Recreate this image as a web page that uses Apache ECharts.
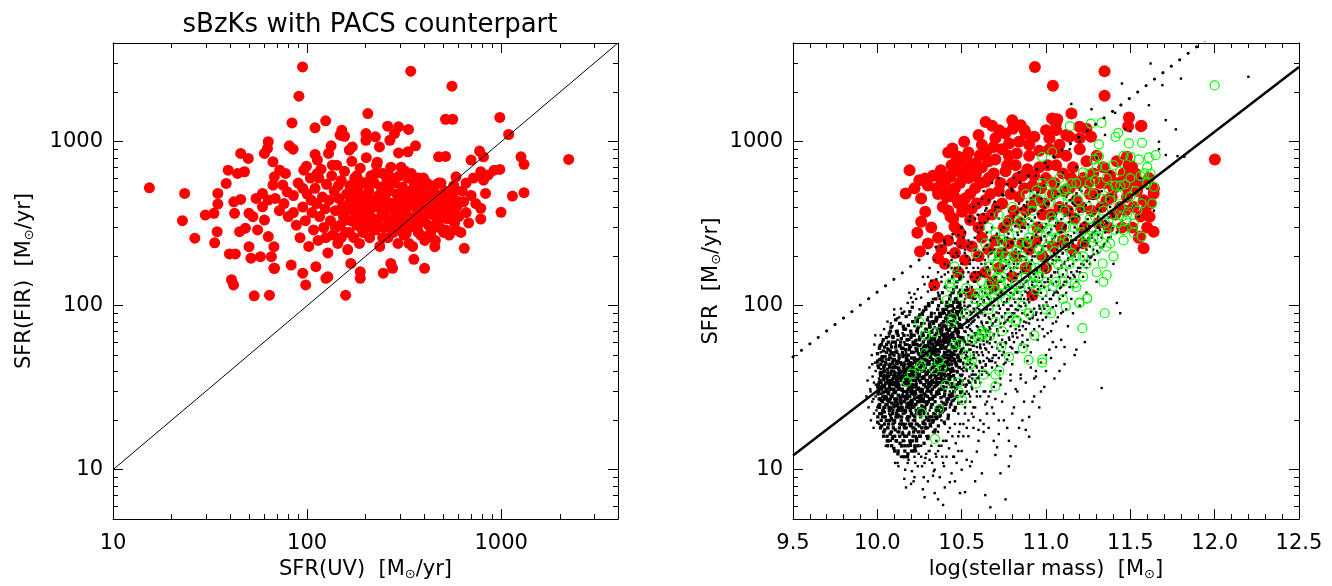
<!DOCTYPE html>
<html>
<head>
<meta charset="utf-8">
<script src="https://cdn.jsdelivr.net/npm/echarts@6/dist/echarts.min.js"></script>
<style>
html,body{margin:0;padding:0;background:#fff;}
#chart{width:1332px;height:586px;}
</style>
</head>
<body>
<div id="chart"></div>
<script>
// ---------------- DATA ----------------
const titleText = 'sBzKs with PACS counterpart';
const leftXName = 'SFR(UV)  [M{sun|⊙}/yr]';
const leftYName = 'SFR(FIR)  [M{sun|⊙}/yr]';
const rightXName = 'log(stellar mass)  [M{sun|⊙}]';
const rightYName = 'SFR  [M{sun|⊙}/yr]';

const logMinorTicks = [2,3,4,5,6,7,8,9,20,30,40,50,60,70,80,90,200,300,400,500,600,700,800,900,2000,3000];

// left panel: SFR(UV), SFR(FIR) of PACS-detected sBzKs
const pacsUvFir = [
[15.4,524],[23.4,484],[22.8,330],[26.4,258],[33.4,242],[29.9,357],[33.1,366],[34.7,484],[34.7,417],[38.3,557],[39.2,671],[34.4,283],[39.8,207],[42.7,207],[40.8,144],[41.8,134],[53.4,115],[64,116],[158,116],[98.4,134],[125,147],[188,147],
[45.5,849],[49.8,791],[63.1,1000],[62.5,910],[60.3,849],[81,945],[84.7,901],[66.7,755],[43.8,641],[47.6,656],[41.9,430],[45.5,445],[42.3,366],[50.2,366],[52.6,349],[54.6,451],[58.9,484],[63.1,441],[68.5,451],[58.9,401],[60.3,333],[55.6,290],[50.2,229],[51.4,195],[57.5,199],[63.1,264],[67.5,229],[65.5,199],[67.5,169],[48.1,297],[44.9,283],[67.8,611],[72.3,671],[77.4,641],[66.7,544],[75,544],[79,495],[99.3,710],[96.2,671],[110,837],[113,773],[113,641],[129,849],[133,945],[151,1177],[148,1097],[156,1080],[165,889],[171,930],[201,1122],[201,1021],[225,1071],[260,1245],[296,1233],[333,1189],[267,1021],[282,1122],[236,930],[362,945],[331,869],[296,855],[476,809],[517,814],[700,773],[774,877],[811,809],[785,656],[811,583],[920,671],[984,678],[859,627],[831,484],[785,393],[785,338],[585,290],[646,224],[585,611],[571,495],[598,430],[403,169],[355,192],[270,181],[276,169],[247,158],[188,161],[168,181],[128,150],[111,173],[95,158],[82.8,177],[68,169],[455,229],[406,258],[466,349],[498,366],[362,303],[324,276],[302,290],
[94.8,2858],[342,2692],[558,2183],[90.8,1897],[205.6,1486],[83.6,1303],[124.7,1341],[109.9,1215],[517,1371],[563,1371],[984,1406],[1093,1107],[2229,780],[1265,809],[1312,728],[1312,489],[1143,466],[998,371],
[72,380],[76,420],[80,350],[85,470],[88,310],[90,560],[92,260],[95,400],[98,330],[100,480],[102,230],[104,600],[106,370],[108,290],[110,520],[112,420],[114,250],[116,350],[118,680],[120,460],[122,300],[124,390],[126,550],[128,210],[130,440],[132,330],[134,620],[136,270],[138,500],[140,380],[142,720],[144,240],[146,450],[148,310],[150,580],[152,400],[154,350],[156,660],[158,280],[160,480],[162,220],[164,420],[166,540],[168,330],[170,760],[172,380],[174,260],[176,600],[178,450],[180,310],[182,520],[184,400],[186,240],[188,690],[190,350],[192,470],[194,280],[196,560],[198,420],[200,320],[202,800],[205,380],[208,500],[210,260],[213,620],[216,440],[219,340],[222,560],[225,290],[228,720],[231,400],[234,470],[237,230],[240,530],[243,360],[246,640],[249,300],[252,450],[255,380],[258,580],[261,260],[264,500],[267,330],[270,700],[274,420],[278,280],[282,560],[286,360],[290,480],[294,240],[298,620],[302,400],[306,320],[310,530],[315,270],[320,450],[325,360],[330,600],[335,300],[340,500],[345,410],[350,230],[356,560],[362,350],[368,440],[374,280],[380,520],[386,380],[392,330],[398,600],[404,250],[410,470],[416,400],[422,310],[428,540],[434,280],[440,430],[446,360],[452,490],[458,250],[464,400],[470,330],[476,560],[482,300],[490,440],[498,370],[506,280],[514,500],[522,340],[530,420],[540,270],[550,380],[560,460],[575,320],[590,400],[605,350],[620,280],[640,430],[660,370],[680,320],
[85,370],[95,520],[105,440],[115,600],[125,260],[135,720],[145,540],[155,330],[165,280],[175,500],[185,580],[195,340],[205,440],[215,300],[225,640],[235,420],[245,260],[255,520],[265,400],[275,600],[285,310],[295,440],[305,700],[315,380],[325,480],[335,240],[345,640],[355,430],[365,350],[375,600],[385,270],[395,480],[405,360],[415,560],[425,400],[435,460],[445,300],[455,540],[465,440],[475,380],[490,560],[505,420],[520,290],[535,480],[550,340],[570,540],[600,430],[630,500],[660,560],[700,470],[740,420],[720,600],
[140,300],[150,260],[160,380],[170,420],[180,360],[190,300],[200,450],[210,380],[220,420],[230,330],[240,400],[250,350],[260,430],[270,300],[280,400],[290,350],[300,450],[310,300],[320,380],[330,420],[340,340],[350,480],[360,400],[370,300],[380,440],[390,400],[400,330],[420,440],[440,360],[460,480],[200,560],[260,640],[320,660],[180,620],[230,750]
];

// right panel: log stellar mass, SFR(FIR) of PACS-detected sBzKs
const pacsMassSfr = [
[10.934,2858],[11.347,2692],[11.041,2193],[11.347,1906],[11.151,1486],[11.492,1406],[11.566,1250],[12.001,780],[11.047,1371],[11.067,1371],
[10.168,484],[10.191,671],[10.249,583],[10.284,597],[10.237,279],[10.253,214],[10.26,325],[10.284,374],[10.36,195],[10.337,134],[10.376,671],[10.434,611],[10.353,520],[10.445,910],[10.515,1000],[10.48,809],[10.527,791],
[10.411,484],[10.457,461],[10.48,421],[10.388,401],[10.434,349],[10.503,374],[10.55,333],[10.492,276],[10.457,303],
[10.585,641],[10.642,570],[10.608,828],[10.689,930],[10.723,1177],[10.758,1122],[10.642,1321],[10.804,1200],[10.85,1262],[10.873,1177],[10.931,1071],[10.781,977],[10.827,849],
[11.0,1177],[11.036,1386],[11.059,1291],[11.139,1071],[11.198,1233],[11.267,1071],[11.487,1245],[11.563,1245],[11.48,809],[11.51,703],
[11.475,531],[11.545,570],[11.638,484],[11.614,349],[11.638,283],[11.579,224],[11.557,264],
[10.55,119],[10.69,131],[10.92,116],
[10.40,560],[10.42,380],[10.44,720],[10.46,520],[10.48,290],[10.50,640],[10.52,450],[10.54,860],[10.56,390],[10.58,520],[10.60,300],[10.62,700],[10.64,440],[10.66,600],[10.68,360],[10.70,780],[10.72,500],[10.74,420],[10.76,660],[10.78,330],[10.80,560],[10.82,720],[10.84,460],[10.86,620],[10.88,380],[10.90,820],[10.92,540],[10.94,440],[10.96,700],[10.98,360],[11.00,600],[11.02,900],[11.04,480],[11.06,720],[11.08,400],[11.10,640],[11.12,820],[11.14,520],[11.16,700],[11.18,440],[11.20,900],[11.22,600],[11.24,760],[11.26,480],[11.28,640],[11.30,820],[11.32,560],[11.34,700],[11.36,440],[11.38,620],[11.40,520],[11.42,760],[11.44,400],[11.46,640],[11.48,460],[11.50,580],[11.52,400],[11.54,500],[11.56,350],[11.58,440],[11.60,300],[11.62,420],[11.64,520],
[10.41,460],[10.43,620],[10.45,340],[10.47,800],[10.49,560],[10.51,400],[10.53,700],[10.55,480],[10.57,620],[10.59,420],[10.61,560],[10.63,340],[10.65,880],[10.67,480],[10.69,640],[10.71,400],[10.73,560],[10.75,300],[10.77,720],[10.79,480],[10.81,380],[10.83,600],[10.85,320],[10.87,520],[10.89,680],[10.91,400],[10.93,620],[10.95,300],[10.97,520],[10.99,420],[11.01,720],[11.03,360],[11.05,560],[11.07,860],[11.09,300],[11.11,500],[11.13,380],[11.15,600],[11.17,340],[11.19,560],[11.21,400],[11.23,300],[11.25,560],[11.27,380],[11.29,480],[11.31,320],[11.33,400],[11.35,560],[11.37,300],[11.39,460],[11.41,360],[11.43,560],[11.45,300],[11.47,380],[11.49,720],[11.51,300],[11.53,640],[11.55,260],[11.57,560],[11.59,380],[11.61,600],
[10.30,240],[10.32,300],[10.36,260],[10.38,220],[10.40,180],[10.42,250],[10.46,210],[10.50,240],[10.52,190],[10.56,230],[10.60,200],[10.62,260],[10.66,220],[10.70,250],[10.74,210],[10.78,240],[10.82,200],[10.86,240],[10.90,220],[10.94,250],[10.98,200],[11.04,230],[11.10,250],[11.16,220],[11.22,240],[10.64,160],[10.72,170],[10.80,150],[10.58,150],[10.48,160],[10.88,170],[11.00,170],[10.68,140],
[10.22,520],[10.26,450],[10.30,540],[10.33,620],[10.36,480],[10.38,580],[10.42,860],[10.46,680],[10.50,760],[10.54,600],[10.58,740],[10.62,960],[10.66,760],[10.60,1100],[10.70,1050],[10.74,900],[10.78,820],[10.84,1000],[10.90,960],[10.96,880],[11.02,1050],[11.08,960],[11.12,1100],[11.20,1050],[11.24,1200],[10.80,1350],[10.68,1250],[10.88,1120],[11.06,1180]
];

// right panel: all sBzKs (log stellar mass, SFR) - outskirts and scatter
const sbzkMassSfr = [
[9.96,30],[9.97,26],[9.98,34],[9.98,22],[9.99,40],[9.99,28],[10.00,45],[10.00,32],[10.00,24],[10.01,36],[10.01,19],[10.02,52],[10.02,29],[10.02,41],[10.03,23],[10.03,33],[10.03,60],[10.04,27],[10.04,38],[10.04,17],[10.05,47],[10.05,31],[10.05,21],[10.05,14],[9.97,44],
[10.06,35],[10.06,25],[10.06,55],[10.06,18],[10.07,42],[10.07,30],[10.07,22],[10.07,65],[10.08,38],[10.08,27],[10.08,15],[10.08,48],[10.08,33],[10.09,20],[10.09,44],[10.09,29],[10.09,75],[10.09,36],[10.10,24],[10.10,52],[10.10,31],[10.10,13],[10.10,40],[10.10,27],[10.11,58],[10.11,35],[10.11,21],[10.11,46],[10.11,30],[10.12,17],[10.12,39],[10.12,26],[10.12,62],[10.12,33],[10.12,23],[10.13,48],[10.13,37],[10.13,28],[10.13,19],[10.13,85],[10.13,42],[10.14,31],[10.14,55],[10.14,25],[10.14,36],[10.14,12],[10.14,45],[10.15,29],[10.15,68],[10.15,38],[10.15,22],[10.15,50],[10.15,33],[10.07,48],[10.09,16],[10.11,70],[10.13,24],[10.08,58],[10.10,36],[10.12,44],[10.14,20],[10.06,30],[10.09,52],[10.11,26],[10.13,33],[10.15,17],[10.10,95],[10.12,11],[10.14,78],[10.08,42],
[10.16,30],[10.16,45],[10.16,22],[10.16,60],[10.16,36],[10.16,15],[10.16,26],[10.17,40],[10.17,52],[10.17,28],[10.17,19],[10.17,34],[10.17,72],[10.17,24],[10.18,47],[10.18,31],[10.18,11],[10.18,38],[10.18,58],[10.18,21],[10.18,27],[10.19,43],[10.19,33],[10.19,88],[10.19,25],[10.19,17],[10.19,55],[10.19,37],[10.20,29],[10.20,48],[10.20,23],[10.20,64],[10.20,35],[10.20,14],[10.20,41],[10.21,30],[10.21,52],[10.21,26],[10.21,20],[10.21,44],[10.21,105],[10.21,33],[10.22,38],[10.22,60],[10.22,28],[10.22,18],[10.22,46],[10.22,24],[10.22,9],[10.23,34],[10.23,70],[10.23,41],[10.23,22],[10.23,29],[10.23,53],[10.23,13],[10.24,37],[10.24,47],[10.24,26],[10.24,82],[10.24,31],[10.24,19],[10.24,58],[10.25,42],[10.25,27],[10.25,35],[10.25,65],[10.25,22],[10.25,16],[10.25,50],[10.16,50],[10.17,12],[10.18,66],[10.19,28],[10.20,56],[10.21,38],[10.22,75],[10.23,16],[10.24,40],[10.25,30],[10.16,19],[10.17,46],[10.18,35],[10.19,62],[10.20,32],[10.21,24],[10.22,52],[10.23,44],[10.24,23],[10.25,95],[10.18,25],[10.20,40],[10.22,33],[10.24,68],[10.17,58],[10.19,21],[10.21,16],[10.23,62],[10.25,37],[10.16,8.8],[10.20,8.2],[10.24,10.5],[10.19,120],[10.23,110],[10.17,7.8],[10.22,12],[10.18,44],[10.24,52],[10.20,26],[10.21,66],
[10.26,40],[10.26,30],[10.26,58],[10.26,22],[10.26,75],[10.26,34],[10.26,14],[10.27,45],[10.27,26],[10.27,52],[10.27,36],[10.27,19],[10.27,88],[10.27,31],[10.28,62],[10.28,42],[10.28,24],[10.28,33],[10.28,11],[10.28,48],[10.28,28],[10.29,38],[10.29,70],[10.29,21],[10.29,55],[10.29,30],[10.29,16],[10.29,44],[10.30,35],[10.30,100],[10.30,26],[10.30,50],[10.30,40],[10.30,18],[10.30,65],[10.31,32],[10.31,46],[10.31,23],[10.31,80],[10.31,37],[10.31,13],[10.31,56],[10.32,29],[10.32,42],[10.32,60],[10.32,20],[10.32,34],[10.32,125],[10.32,48],[10.33,39],[10.33,25],[10.33,72],[10.33,31],[10.33,17],[10.33,53],[10.33,44],[10.34,36],[10.34,28],[10.34,90],[10.34,21],[10.34,47],[10.34,60],[10.34,10],[10.35,41],[10.35,30],[10.35,68],[10.35,24],[10.35,52],[10.35,145],[10.35,15],[10.26,48],[10.27,66],[10.28,20],[10.29,95],[10.30,30],[10.31,27],[10.32,38],[10.33,110],[10.34,40],[10.35,35],[10.26,26],[10.28,55],[10.30,22],[10.32,70],[10.34,32],[10.27,40],[10.29,34],[10.31,64],[10.33,27],[10.35,80],[10.27,7.6],[10.30,8.5],[10.33,9.2],[10.28,6.8],[10.34,7.2],[10.31,11.5],[10.26,12],[10.29,12.5],[10.32,14],[10.35,12],[10.27,150],[10.31,170],[10.34,190],[10.30,58],[10.28,36],[10.26,64],[10.33,62],[10.35,46],[10.29,26],[10.31,44],[10.27,56],[10.32,52],[10.34,74],[10.30,85],[10.28,78],
[10.36,45],[10.36,33],[10.36,62],[10.36,24],[10.36,85],[10.36,38],[10.36,17],[10.37,52],[10.37,29],[10.37,70],[10.37,40],[10.37,21],[10.37,110],[10.38,35],[10.38,58],[10.38,46],[10.38,26],[10.38,14],[10.38,78],[10.38,31],[10.39,42],[10.39,95],[10.39,34],[10.39,55],[10.39,23],[10.39,66],[10.39,11],[10.40,48],[10.40,37],[10.40,130],[10.40,28],[10.40,60],[10.40,19],[10.40,44],[10.41,75],[10.41,32],[10.41,52],[10.41,25],[10.41,88],[10.41,40],[10.41,15],[10.42,58],[10.42,36],[10.42,160],[10.42,27],[10.42,47],[10.42,70],[10.42,21],[10.43,41],[10.43,100],[10.43,33],[10.43,62],[10.43,50],[10.43,18],[10.43,30],[10.44,80],[10.44,44],[10.44,55],[10.44,26],[10.44,120],[10.44,37],[10.44,9.5],[10.45,64],[10.45,48],[10.45,32],[10.45,200],[10.45,23],[10.45,90],[10.45,40],[10.36,120],[10.38,150],[10.40,180],[10.42,210],[10.44,170],[10.37,9],[10.40,7.8],[10.43,8.4],[10.45,12],[10.36,13],[10.39,15],[10.41,12],[10.42,17],[10.38,20],[10.43,24],[10.37,36],[10.39,48],[10.41,62],[10.43,72],[10.45,56],[10.36,54],[10.38,66],[10.40,90],[10.42,98],[10.44,66],[10.37,86],[10.39,28],[10.41,44],[10.43,38],[10.45,28],[10.40,240],[10.44,260],[10.38,230],[10.36,6.6],[10.39,6.1],
[10.46,50],[10.46,36],[10.46,75],[10.46,27],[10.46,110],[10.46,44],[10.46,19],[10.47,60],[10.47,40],[10.47,92],[10.47,31],[10.47,140],[10.47,55],[10.48,46],[10.48,70],[10.48,34],[10.48,22],[10.48,100],[10.48,58],[10.48,16],[10.49,42],[10.49,82],[10.49,30],[10.49,125],[10.49,64],[10.49,38],[10.50,52],[10.50,180],[10.50,41],[10.50,76],[10.50,26],[10.50,96],[10.50,13],[10.51,62],[10.51,45],[10.51,150],[10.51,33],[10.51,85],[10.51,55],[10.52,70],[10.52,48],[10.52,220],[10.52,36],[10.52,110],[10.52,24],[10.52,60],[10.53,40],[10.53,90],[10.53,130],[10.53,52],[10.53,30],[10.53,18],[10.54,66],[10.54,44],[10.54,160],[10.54,80],[10.54,35],[10.54,250],[10.55,58],[10.55,100],[10.55,42],[10.55,72],[10.55,28],[10.55,190],[10.46,240],[10.48,270],[10.50,300],[10.52,280],[10.54,330],[10.47,210],[10.49,230],[10.51,260],[10.53,200],[10.55,350],[10.46,8.5],[10.49,7.2],[10.52,7.3],[10.55,10.5],[10.47,11],[10.50,10],[10.53,11.5],[10.48,13],[10.51,16],[10.54,20],[10.46,24],[10.49,19],[10.52,29],[10.55,34],[10.47,68],[10.50,64],[10.53,74],[10.49,52],[10.51,40],
[10.56,60],[10.56,44],[10.56,90],[10.56,32],[10.56,130],[10.56,70],[10.57,52],[10.57,110],[10.57,38],[10.57,170],[10.57,80],[10.57,24],[10.58,66],[10.58,48],[10.58,140],[10.58,95],[10.58,35],[10.58,220],[10.59,56],[10.59,75],[10.59,120],[10.59,42],[10.59,28],[10.59,300],[10.60,62],[10.60,100],[10.60,50],[10.60,160],[10.60,36],[10.60,85],[10.61,70],[10.61,130],[10.61,45],[10.61,200],[10.61,58],[10.61,20],[10.62,78],[10.62,110],[10.62,52],[10.62,250],[10.62,38],[10.62,90],[10.63,64],[10.63,150],[10.63,46],[10.63,105],[10.63,30],[10.63,360],[10.64,72],[10.64,55],[10.64,180],[10.64,120],[10.64,40],[10.64,88],[10.65,60],[10.65,140],[10.65,48],[10.65,280],[10.65,95],[10.65,26],[10.57,400],[10.60,420],[10.62,450],[10.64,380],[10.58,340],[10.61,320],[10.63,500],[10.56,11.2],[10.59,12.9],[10.58,8.5],[10.62,9.5],[10.64,7],[10.60,15],[10.63,17],[10.57,18],[10.65,22],[10.59,30],[10.61,34],[10.64,30],[10.56,22],
[10.66,70],[10.66,52],[10.66,110],[10.66,160],[10.66,38],[10.66,85],[10.67,62],[10.67,130],[10.67,46],[10.67,220],[10.67,95],[10.68,76],[10.68,56],[10.68,180],[10.68,120],[10.68,42],[10.68,300],[10.69,66],[10.69,100],[10.69,150],[10.69,50],[10.69,88],[10.69,32],[10.70,80],[10.70,60],[10.70,200],[10.70,125],[10.70,45],[10.70,400],[10.71,72],[10.71,110],[10.71,160],[10.71,55],[10.71,260],[10.72,90],[10.72,66],[10.72,140],[10.72,48],[10.72,340],[10.72,100],[10.73,78],[10.73,190],[10.73,58],[10.73,120],[10.73,36],[10.74,85],[10.74,62],[10.74,240],[10.74,150],[10.74,480],[10.75,70],[10.75,105],[10.75,170],[10.75,52],[10.75,300],[10.67,5.9],[10.70,12.3],[10.71,13.7],[10.73,9.5],[10.69,15],[10.72,20],[10.74,26],[10.66,28],[10.68,24],[10.70,34],[10.73,40],[10.75,44],[10.68,560],[10.72,600],[10.66,440],
[10.76,80],[10.76,60],[10.76,130],[10.76,190],[10.76,45],[10.77,95],[10.77,70],[10.77,150],[10.77,260],[10.77,110],[10.78,85],[10.78,64],[10.78,210],[10.78,130],[10.78,50],[10.78,380],[10.79,100],[10.79,75],[10.79,170],[10.79,56],[10.79,120],[10.80,90],[10.80,68],[10.80,240],[10.80,140],[10.80,44],[10.80,500],[10.81,110],[10.81,80],[10.81,180],[10.81,60],[10.81,320],[10.82,95],[10.82,72],[10.82,150],[10.82,220],[10.82,52],[10.83,120],[10.83,86],[10.83,280],[10.83,64],[10.83,170],[10.84,100],[10.84,75],[10.84,200],[10.84,130],[10.84,420],[10.85,110],[10.85,82],[10.85,160],[10.85,58],[10.85,250],[10.76,6.6],[10.78,10.5],[10.79,12.1],[10.82,13.9],[10.77,18],[10.80,22],[10.83,30],[10.85,36],[10.79,38],[10.81,600],[10.84,650],[10.77,550],
[10.86,90],[10.86,130],[10.86,200],[10.86,66],[10.86,300],[10.87,110],[10.87,80],[10.87,160],[10.87,240],[10.87,56],[10.88,100],[10.88,140],[10.88,72],[10.88,190],[10.88,400],[10.89,120],[10.89,88],[10.89,260],[10.89,62],[10.89,170],[10.90,105],[10.90,150],[10.90,78],[10.90,220],[10.90,340],[10.91,125],[10.91,92],[10.91,180],[10.91,68],[10.91,500],[10.92,110],[10.92,140],[10.92,84],[10.92,260],[10.92,200],[10.93,130],[10.93,96],[10.93,160],[10.93,72],[10.93,380],[10.94,115],[10.94,150],[10.94,88],[10.94,230],[10.94,620],[10.95,120],[10.95,170],[10.95,82],[10.95,300],[10.88,17.5],[10.90,15.9],[10.86,20],[10.92,26],[10.94,40],[10.89,46],[10.91,52],[10.93,36],
[10.96,100],[10.96,140],[10.96,210],[10.96,75],[10.96,320],[10.97,120],[10.97,170],[10.97,90],[10.97,260],[10.97,450],[10.98,110],[10.98,150],[10.98,82],[10.98,230],[10.98,600],[10.99,130],[10.99,190],[10.99,96],[10.99,300],[11.00,115],[11.00,160],[11.00,85],[11.00,250],[11.00,420],[11.01,140],[11.01,200],[11.01,100],[11.01,700],[11.02,125],[11.02,175],[11.02,90],[11.02,280],[11.03,150],[11.03,110],[11.03,220],[11.03,360],[11.04,135],[11.04,190],[11.04,98],[11.04,500],[11.05,160],[11.05,120],[11.05,260],[11.05,800],[10.97,30],[11.00,40],[11.02,54],[11.04,60],[10.99,65],[11.03,70],
[11.06,140],[11.06,200],[11.06,100],[11.06,320],[11.07,160],[11.07,120],[11.07,240],[11.07,550],[11.08,150],[11.08,110],[11.08,190],[11.08,400],[11.09,170],[11.09,130],[11.09,280],[11.09,90],[11.10,155],[11.10,210],[11.10,115],[11.10,650],[11.11,180],[11.11,140],[11.11,300],[11.12,165],[11.12,230],[11.12,120],[11.12,460],[11.13,190],[11.13,150],[11.13,270],[11.14,175],[11.14,130],[11.14,360],[11.14,900],[11.15,200],[11.15,160],[11.15,250],[11.15,110],[11.08,40],[11.11,56],[11.13,75],[11.09,62],[11.06,80],[11.12,95],[11.15,1700],
[11.16,180],[11.16,250],[11.16,130],[11.16,420],[11.17,200],[11.17,150],[11.17,300],[11.18,190],[11.18,260],[11.18,140],[11.18,700],[11.19,220],[11.19,170],[11.19,350],[11.20,210],[11.20,160],[11.20,280],[11.20,1000],[11.21,230],[11.21,180],[11.21,500],[11.22,200],[11.22,260],[11.22,150],[11.23,240],[11.23,190],[11.23,380],[11.24,220],[11.24,300],[11.24,170],[11.25,250],[11.25,200],[11.25,600],[11.18,54],[11.20,100],[11.22,110],[11.24,120],[11.16,90],
[11.26,230],[11.26,300],[11.26,180],[11.27,260],[11.27,200],[11.27,1580],[11.28,280],[11.28,220],[11.28,450],[11.29,250],[11.29,320],[11.29,190],[11.30,300],[11.30,240],[11.30,800],[11.31,270],[11.31,350],[11.31,210],[11.32,290],[11.32,380],[11.33,260],[11.33,31.5],[11.33,500],[11.34,310],[11.34,230],[11.35,280],[11.35,1100],[11.30,140],
[11.36,320],[11.37,260],[11.38,400],[11.39,300],[11.40,350],[11.41,1500],[11.42,280],[11.43,420],[11.44,90],[11.45,2265],[11.45,330],[11.46,380],[11.47,1200],[11.48,300],[11.42,104],[11.50,1160],[11.38,650],[11.44,520],[11.49,450],[11.40,180],
[11.52,400],[11.55,350],[11.58,450],[11.61,1671],[11.62,3000],[11.64,380],[11.67,1000],[11.67,900],[11.69,2213],[11.71,1355],[11.71,830],[11.77,1189],[11.78,817],[11.80,2427],[11.82,810],[12.20,2490],[11.56,600],[11.60,520]
];

// right panel: all sBzKs - fringe around the dense core
const sbzkEdgeMassSfr = [
[10.502,28],[10.506,35],[10.509,44],[10.513,52],[10.517,61],[10.504,73],[10.511,86],[10.515,105],[10.519,125],
[10.522,26],[10.526,33],[10.529,41],[10.533,49],[10.537,58],[10.524,69],[10.531,82],[10.535,98],[10.539,118],
[10.542,29],[10.546,37],[10.549,45],[10.553,54],[10.557,64],[10.544,76],[10.551,92],[10.555,112],
[10.562,31],[10.566,40],[10.569,48],[10.573,57],[10.577,68],[10.564,80],[10.571,96],[10.575,118],
[10.582,34],[10.586,43],[10.589,52],[10.593,62],[10.597,74],[10.584,88],[10.591,105],
[10.602,37],[10.606,46],[10.609,56],[10.613,67],[10.617,80],[10.604,95],
[10.622,40],[10.626,50],[10.629,61],[10.633,73],[10.637,87],
[10.642,43],[10.646,54],[10.649,66],[10.653,79],
[10.662,47],[10.666,59],[10.669,72],
[10.105,11],[10.125,10.5],[10.145,12],[10.165,10],[10.185,11.5],[10.205,9.8],[10.225,11],[10.245,12.5],[10.265,10.5],[10.285,11.8],[10.305,13],[10.325,11],[10.345,12.5],[10.365,14],[10.385,12],[10.405,15],[10.425,13.5],[10.445,16],[10.465,14.5],[10.485,17],[10.215,8.5],[10.275,9],[10.335,9.8],[10.395,10.5],[10.455,12],
[9.935,28],[9.942,35],[9.948,24],[9.953,42],[9.958,31],[9.962,20],[9.967,50],[9.972,37],[9.977,27],[9.982,58],[9.986,45],[9.991,33],[9.995,23],[9.988,66],[9.978,18],
[10.02,66],[10.04,72],[10.06,80],[10.08,78],[10.10,88],[10.12,84],[10.14,96],[10.16,92],[10.18,104],[10.20,112],[10.22,118],[10.24,126],[10.26,112],[10.28,135],[10.30,122],[10.32,142],[10.34,130],[10.36,160],[10.38,140],[10.40,155],[10.42,175],[10.44,190],[10.46,170],[10.48,200],[10.30,150]
];

// right panel: all sBzKs - dense low-mass core
const sbzkCoreMassSfr = [
[10.003,21],[10.011,27],[10.006,33],[10.017,39],[10.002,46],[10.014,25],[10.009,30],[10.019,18],[10.013,24],[10.004,29],[10.016,35],[10.008,42],[10.012,55],
[10.023,20],[10.031,26],[10.027,31],[10.036,37],[10.021,44],[10.034,23],[10.029,49],[10.038,17],[10.025,22],[10.033,28],[10.022,34],[10.039,40],[10.028,48],[10.035,62],
[10.043,19],[10.051,25],[10.047,30],[10.056,36],[10.041,43],[10.054,52],[10.049,27],[10.058,16],[10.045,21],[10.053,27.5],[10.042,32],[10.059,38],[10.048,45],[10.055,58],[10.044,24],
[10.063,18],[10.071,23],[10.067,29],[10.076,34],[10.061,41],[10.074,50],[10.069,26],[10.078,70],[10.065,15],[10.073,20],[10.062,26.5],[10.079,31],[10.068,37],[10.075,44],[10.064,54],[10.072,33],
[10.083,17],[10.091,22],[10.087,28],[10.096,33],[10.081,39],[10.094,47],[10.089,60],[10.098,25],[10.085,14],[10.093,19],[10.082,24],[10.099,30],[10.088,35],[10.095,42],[10.084,51],[10.092,65],[10.086,28],
[10.103,16],[10.111,21],[10.107,26],[10.116,32],[10.101,38],[10.114,45],[10.109,56],[10.118,23],[10.105,34],[10.113,15],[10.102,20],[10.119,25],[10.108,30],[10.115,36],[10.104,43],[10.112,53],[10.117,68],[10.106,27],
[10.123,13],[10.131,18],[10.127,23],[10.136,28],[10.121,34],[10.134,40],[10.129,48],[10.138,60],[10.125,31],[10.133,16],[10.122,21],[10.139,27],[10.128,32],[10.135,39],[10.124,46],[10.132,57],[10.126,24],[10.137,36],
[10.143,14],[10.151,19],[10.147,24],[10.156,30],[10.141,35],[10.154,42],[10.149,52],[10.158,66],[10.145,28],[10.153,15],[10.142,20],[10.159,26],[10.148,31],[10.155,37],[10.144,44],[10.152,55],[10.157,72],[10.146,23],
[10.163,13],[10.171,18],[10.167,23],[10.176,29],[10.161,34],[10.174,41],[10.169,50],[10.178,62],[10.165,27],[10.173,38],[10.162,16],[10.179,21],[10.168,27],[10.175,33],[10.164,39],[10.172,47],[10.166,58],[10.177,25],[10.17,35],
[10.183,14],[10.191,19],[10.187,25],[10.196,30],[10.181,36],[10.194,43],[10.189,54],[10.198,70],[10.185,28],[10.193,15],[10.182,20],[10.199,26],[10.188,32],[10.195,38],[10.184,46],[10.192,57],[10.186,24],[10.197,33],[10.19,44],
[10.203,13],[10.211,18],[10.207,24],[10.216,29],[10.201,35],[10.214,42],[10.209,52],[10.218,66],[10.205,31],[10.213,16],[10.202,22],[10.219,27],[10.208,33],[10.215,40],[10.204,48],[10.212,60],[10.206,25],[10.217,37],[10.21,80],
[10.223,14],[10.231,19],[10.227,25],[10.236,31],[10.221,37],[10.234,44],[10.229,55],[10.238,72],[10.225,29],[10.233,15],[10.222,21],[10.239,26],[10.228,32],[10.235,39],[10.224,47],[10.232,58],[10.226,35],[10.237,80],[10.23,23],
[10.243,17],[10.251,23],[10.247,28],[10.256,34],[10.241,41],[10.254,50],[10.249,62],[10.258,27],[10.245,45],[10.253,16],[10.242,22],[10.259,28],[10.248,35],[10.255,42],[10.244,51],[10.252,64],[10.246,85],[10.257,31],[10.25,38],
[10.263,18],[10.271,24],[10.267,30],[10.276,37],[10.261,44],[10.274,54],[10.269,68],[10.278,26],[10.265,40],[10.273,17],[10.262,23],[10.279,29],[10.268,36],[10.275,43],[10.264,53],[10.272,66],[10.266,90],[10.277,33],[10.27,48],
[10.283,19],[10.291,25],[10.287,32],[10.296,39],[10.281,47],[10.294,57],[10.289,72],[10.298,28],[10.285,42],[10.293,18],[10.282,24],[10.299,31],[10.288,38],[10.295,46],[10.284,56],[10.292,70],[10.286,95],[10.297,35],[10.29,52],
[10.303,20],[10.311,27],[10.307,34],[10.316,41],[10.301,50],[10.314,61],[10.309,77],[10.318,30],[10.305,45],[10.313,19],[10.302,26],[10.319,33],[10.308,40],[10.315,49],[10.304,60],[10.312,75],[10.306,100],[10.317,37],[10.31,56],
[10.323,21],[10.331,28],[10.327,35],[10.336,43],[10.321,52],[10.334,64],[10.329,80],[10.338,32],[10.325,47],[10.333,20],[10.322,27],[10.339,34],[10.328,42],[10.335,51],[10.324,63],[10.332,79],[10.326,105],[10.337,38],[10.33,58],
[10.343,22],[10.351,29],[10.347,37],[10.356,45],[10.341,55],[10.354,68],[10.349,85],[10.358,34],[10.345,50],[10.353,21],[10.342,28],[10.359,36],[10.348,44],[10.355,54],[10.344,66],[10.352,83],[10.346,110],[10.357,40],[10.35,60],
[10.363,23],[10.371,31],[10.367,39],[10.376,48],[10.361,58],[10.374,72],[10.369,90],[10.378,36],[10.365,53],[10.373,22],[10.362,30],[10.379,38],[10.368,47],[10.375,57],[10.364,70],[10.372,88],[10.366,115],[10.377,43],[10.37,64],
[10.383,24],[10.391,32],[10.387,41],[10.396,50],[10.381,61],[10.394,76],[10.389,95],[10.398,38],[10.385,56],[10.393,23],[10.382,31],[10.399,40],[10.388,49],[10.395,60],[10.384,74],[10.392,93],[10.386,120],[10.397,45],[10.39,67],
[10.403,25],[10.411,34],[10.407,43],[10.416,53],[10.401,65],[10.414,80],[10.409,100],[10.418,41],[10.405,60],[10.413,26],[10.402,35],[10.419,45],[10.408,56],[10.415,68],[10.404,84],[10.412,105],[10.406,130],[10.417,48],[10.41,72],
[10.423,27],[10.431,37],[10.427,47],[10.436,58],[10.421,71],[10.434,88],[10.429,110],[10.438,44],[10.425,63],[10.433,28],[10.422,38],[10.439,49],[10.428,60],[10.435,74],[10.424,92],[10.432,115],[10.426,140],[10.437,52],[10.43,80],
[10.443,29],[10.451,40],[10.447,51],[10.456,63],[10.441,77],[10.454,96],[10.449,120],[10.458,47],[10.445,67],[10.453,30],[10.442,41],[10.459,53],[10.448,66],[10.455,81],[10.444,100],[10.452,125],[10.446,150],[10.457,56],[10.45,86],
[10.463,32],[10.471,43],[10.467,55],[10.476,68],[10.461,84],[10.474,105],[10.469,130],[10.478,50],[10.465,72],[10.473,33],[10.462,45],[10.479,58],[10.468,71],[10.475,88],[10.464,110],[10.472,140],[10.466,160],[10.477,60],[10.47,92],
[10.483,34],[10.491,46],[10.487,60],[10.496,74],[10.481,92],[10.494,115],[10.489,145],[10.498,54],[10.485,76],[10.493,35],[10.482,48],[10.499,62],[10.488,77],[10.495,96],[10.484,120],[10.492,150],[10.486,170],[10.497,64],[10.49,100]
];

// right panel: all sBzKs - second pass over the dense core
const sbzkCoreFillMassSfr = [
[10.002,19.5],[10.014,22],[10.008,24.5],[10.017,27],[10.005,31.5],[10.011,34],[10.019,37.5],[10.004,43],[10.013,47],[10.001,51],[10.016,57],
[10.037,16],[10.025,18.5],[10.031,21],[10.039,24],[10.024,26.5],[10.033,29.5],[10.021,32],[10.036,35.5],[10.027,39],[10.038,42],[10.029,46],[10.035,53],[10.023,58],
[10.059,15],[10.044,17.5],[10.053,20],[10.041,22.5],[10.056,25],[10.047,28],[10.058,31],[10.049,34],[10.055,37],[10.043,40],[10.052,44],[10.046,49],[10.042,56],[10.054,64],
[10.061,14],[10.076,16.5],[10.067,19],[10.078,21.5],[10.069,24],[10.075,27],[10.063,29.5],[10.072,32],[10.066,35],[10.062,39],[10.074,43],[10.068,47],[10.077,53],[10.065,60],[10.071,68],
[10.098,13.5],[10.089,15.5],[10.095,18],[10.083,20.5],[10.092,23],[10.086,25.5],[10.082,28],[10.094,31],[10.088,34],[10.097,37],[10.085,40],[10.091,45],[10.099,50],[10.084,56],[10.093,64],[10.081,74],
[10.103,13],[10.112,15],[10.106,17.5],[10.102,19.5],[10.114,22],[10.108,24.5],[10.117,27],[10.105,29.5],[10.111,32.5],[10.119,35.5],[10.104,39],[10.113,42],[10.101,47],[10.116,52],[10.107,60],[10.118,70],[10.109,82],
[10.122,12.5],[10.134,14.5],[10.128,17],[10.137,19],[10.125,21.5],[10.131,23.5],[10.139,26],[10.124,28.5],[10.133,31],[10.121,34],[10.136,37],[10.127,41],[10.138,45],[10.129,50],[10.135,57],[10.123,66],[10.132,78],
[10.157,12],[10.145,14],[10.151,16.5],[10.159,18.5],[10.144,21],[10.153,23],[10.141,25.5],[10.156,28],[10.147,30.5],[10.158,33.5],[10.149,36.5],[10.155,40],[10.143,44],[10.152,49],[10.146,55],[10.142,63],[10.154,75],[10.148,90],
[10.179,12],[10.164,14],[10.173,16],[10.161,18],[10.176,20.5],[10.167,22.5],[10.178,25],[10.169,27.5],[10.175,30],[10.163,33],[10.172,36],[10.166,39.5],[10.162,43.5],[10.174,48],[10.168,54],[10.177,62],[10.165,72],[10.171,86],
[10.181,12.5],[10.196,14.5],[10.187,16.5],[10.198,18.5],[10.189,21],[10.195,23],[10.183,25.5],[10.192,28],[10.186,31],[10.182,34],[10.194,37],[10.188,40.5],[10.197,45],[10.185,50],[10.191,56],[10.199,64],[10.184,76],[10.193,92],
[10.218,13],[10.209,15],[10.215,17],[10.203,19],[10.212,21.5],[10.206,24],[10.202,26.5],[10.214,29],[10.208,32],[10.217,35],[10.205,38.5],[10.211,42],[10.219,46.5],[10.204,52],[10.213,58],[10.201,67],[10.216,80],[10.207,98],
[10.223,13.5],[10.232,15.5],[10.226,17.5],[10.222,20],[10.234,22.5],[10.228,25],[10.237,27.5],[10.225,30],[10.231,33],[10.239,36],[10.224,40],[10.233,44],[10.221,48],[10.236,54],[10.227,61],[10.238,70],[10.229,84],
[10.242,14],[10.254,16],[10.248,18.5],[10.257,21],[10.245,23.5],[10.251,26],[10.259,28.5],[10.244,31.5],[10.253,35],[10.241,38],[10.256,42],[10.247,46],[10.258,51],[10.249,57],[10.255,64],[10.243,74],[10.252,88],
[10.277,14.5],[10.265,17],[10.271,19.5],[10.279,22],[10.264,24.5],[10.273,27],[10.261,30],[10.276,33],[10.267,36.5],[10.278,40],[10.269,44],[10.275,48.5],[10.263,54],[10.272,60],[10.266,68],[10.262,78],[10.274,93],
[10.299,15.5],[10.284,18],[10.293,20.5],[10.281,23],[10.296,25.5],[10.287,28.5],[10.298,31.5],[10.289,35],[10.295,38.5],[10.283,42],[10.292,46.5],[10.286,51],[10.282,57],[10.294,63],[10.288,71],[10.297,82],[10.285,98],
[10.301,16],[10.316,18.5],[10.307,21],[10.318,24],[10.309,27],[10.315,30],[10.303,33],[10.312,36.5],[10.306,40],[10.302,44],[10.314,48.5],[10.308,53.5],[10.317,59],[10.305,66],[10.311,74],[10.319,86],[10.304,103],
[10.338,17],[10.329,19.5],[10.335,22],[10.323,25],[10.332,28],[10.326,31],[10.322,34.5],[10.334,38],[10.328,42],[10.337,46],[10.325,51],[10.331,56],[10.339,62],[10.324,69],[10.333,78],[10.321,90],
[10.343,17.5],[10.352,20.5],[10.346,23],[10.342,26],[10.354,29],[10.348,32.5],[10.357,36],[10.345,39.5],[10.351,43.5],[10.359,48],[10.344,53],[10.353,58.5],[10.341,65],[10.356,72],[10.347,82],[10.358,95],
[10.362,18.5],[10.374,21.5],[10.368,24.5],[10.377,27.5],[10.365,30.5],[10.371,34],[10.379,37.5],[10.364,41.5],[10.373,45.5],[10.361,50],[10.376,55],[10.367,61],[10.378,68],[10.369,76],[10.375,86],[10.363,100],
[10.397,19.5],[10.385,22.5],[10.391,25.5],[10.399,29],[10.384,32],[10.393,35.5],[10.381,39],[10.396,43],[10.387,47.5],[10.398,52],[10.389,57.5],[10.395,64],[10.383,71],[10.392,80],[10.386,90],[10.382,105],
[10.419,20.5],[10.404,23.5],[10.413,27],[10.401,30.5],[10.416,34],[10.407,37.5],[10.418,41],[10.409,45.5],[10.415,50],[10.403,55],[10.412,60.5],[10.406,67],[10.402,75],[10.414,84],[10.408,95],
[10.421,21.5],[10.436,25],[10.427,28.5],[10.438,32],[10.429,35.5],[10.435,39.5],[10.423,43.5],[10.432,48],[10.426,53],[10.422,58],[10.434,64],[10.428,71],[10.437,79],[10.425,88],[10.431,100],
[10.458,23],[10.449,26.5],[10.455,30],[10.443,33.5],[10.452,37.5],[10.446,41.5],[10.442,46],[10.454,50.5],[10.448,56],[10.457,61.5],[10.445,68],[10.451,75],[10.459,83],[10.444,93],[10.453,105],
[10.463,24],[10.472,28],[10.466,31.5],[10.462,35.5],[10.474,39.5],[10.468,44],[10.477,48.5],[10.465,53.5],[10.471,59],[10.479,65],[10.464,72],[10.473,79],[10.461,88],[10.476,98],[10.467,110],
[10.482,25.5],[10.494,29.5],[10.488,33.5],[10.497,37.5],[10.485,42],[10.491,46.5],[10.499,51.5],[10.484,57],[10.493,63],[10.481,69],[10.496,76],[10.487,84],[10.498,93],[10.489,104],[10.495,116]
];

// right panel: all sBzKs - band along the main sequence
const sbzkBandMassSfr = [
[10.503,30],[10.512,42],[10.507,55],[10.516,70],[10.501,90],[10.514,120],[10.509,160],[10.518,210],[10.505,38],[10.511,64],[10.517,100],
[10.523,32],[10.532,44],[10.527,58],[10.536,74],[10.521,95],[10.534,125],[10.529,170],[10.538,230],[10.525,50],[10.531,82],[10.537,140],
[10.543,34],[10.552,47],[10.547,61],[10.556,78],[10.541,100],[10.554,130],[10.549,180],[10.558,240],[10.545,54],[10.551,88],[10.557,150],
[10.563,36],[10.572,50],[10.567,64],[10.576,82],[10.561,105],[10.574,140],[10.569,190],[10.578,260],[10.565,57],[10.571,92],[10.577,160],
[10.583,38],[10.592,52],[10.587,68],[10.596,86],[10.581,110],[10.594,148],[10.589,200],[10.598,280],[10.585,60],[10.591,97],[10.597,170],
[10.603,40],[10.612,55],[10.607,71],[10.616,90],[10.601,116],[10.614,155],[10.609,210],[10.618,300],[10.605,63],[10.611,102],[10.617,180],
[10.623,42],[10.632,58],[10.627,75],[10.636,95],[10.621,122],[10.634,165],[10.629,220],[10.638,320],[10.625,66],[10.631,108],[10.637,190],
[10.643,44],[10.652,61],[10.647,79],[10.656,100],[10.641,128],[10.654,172],[10.649,235],[10.658,340],[10.645,70],[10.651,113],[10.657,200],
[10.663,46],[10.672,64],[10.667,83],[10.676,105],[10.661,135],[10.674,180],[10.669,250],[10.678,360],[10.665,74],[10.671,120],[10.677,210],
[10.683,48],[10.692,67],[10.687,87],[10.696,110],[10.681,142],[10.694,190],[10.689,260],[10.698,380],[10.685,78],[10.691,126],[10.697,220],
[10.703,50],[10.712,70],[10.707,91],[10.716,116],[10.701,150],[10.714,200],[10.709,275],[10.718,400],[10.705,82],[10.711,132],[10.717,235],
[10.723,53],[10.732,74],[10.727,96],[10.736,122],[10.721,158],[10.734,210],[10.729,290],[10.738,86],[10.731,140],[10.737,250],
[10.743,56],[10.752,78],[10.747,101],[10.756,128],[10.741,166],[10.754,220],[10.749,300],[10.758,90],[10.751,147],[10.757,260],
[10.763,59],[10.772,82],[10.767,106],[10.776,134],[10.761,175],[10.774,232],[10.769,320],[10.778,95],[10.771,155],[10.777,275],
[10.783,62],[10.792,86],[10.787,111],[10.796,141],[10.781,184],[10.794,244],[10.789,335],[10.798,100],[10.791,163],[10.797,290],
[10.803,65],[10.812,90],[10.807,117],[10.816,148],[10.801,193],[10.814,256],[10.809,350],[10.818,105],[10.811,171],[10.817,305],
[10.823,68],[10.832,94],[10.827,123],[10.836,156],[10.821,203],[10.834,270],[10.829,370],[10.838,110],[10.831,180],[10.837,320],
[10.843,71],[10.852,99],[10.847,129],[10.856,164],[10.841,213],[10.854,284],[10.849,390],[10.858,116],[10.851,189],[10.857,335],
[10.863,75],[10.872,104],[10.867,135],[10.876,172],[10.861,224],[10.874,298],[10.869,410],[10.878,122],[10.871,198],[10.877,350],
[10.883,79],[10.892,109],[10.887,142],[10.896,181],[10.881,235],[10.894,313],[10.889,430],[10.898,128],[10.891,208],[10.897,370],
[10.903,83],[10.912,114],[10.907,149],[10.916,190],[10.901,247],[10.914,329],[10.909,450],[10.918,134],[10.911,218],[10.917,390],
[10.923,87],[10.932,120],[10.927,156],[10.936,200],[10.921,260],[10.934,345],[10.929,470],[10.938,141],[10.931,229],
[10.943,91],[10.952,126],[10.947,164],[10.956,210],[10.941,272],[10.954,362],[10.949,490],[10.958,148],[10.951,240],
[10.963,96],[10.972,132],[10.967,172],[10.976,220],[10.961,286],[10.974,380],[10.969,520],[10.978,155],[10.971,252],
[10.983,100],[10.992,139],[10.987,181],[10.996,231],[10.981,300],[10.994,400],[10.989,540],[10.998,163],[10.991,265],
[11.003,105],[11.012,146],[11.007,190],[11.016,242],[11.001,315],[11.014,420],[11.018,171],[11.011,278],
[11.023,110],[11.032,153],[11.027,199],[11.036,254],[11.021,330],[11.034,440],[11.038,180],[11.031,292],
[11.043,116],[11.052,160],[11.047,209],[11.056,267],[11.041,347],[11.054,460],[11.058,189],[11.051,306],
[11.063,122],[11.072,168],[11.067,219],[11.076,280],[11.061,364],[11.074,480],[11.078,198],[11.071,321],
[11.083,128],[11.092,176],[11.087,230],[11.096,294],[11.081,382],[11.094,500],[11.098,208],[11.091,337],
[11.103,134],[11.112,185],[11.107,241],[11.116,308],[11.101,400],[11.114,530],[11.118,218],[11.111,354],
[11.123,140],[11.132,194],[11.127,253],[11.136,323],[11.121,420],[11.138,229],[11.131,371],
[11.143,147],[11.152,204],[11.147,265],[11.156,339],[11.141,440],[11.158,240],[11.151,389],
[11.163,154],[11.172,214],[11.167,278],[11.176,356],[11.161,460],[11.178,252],[11.171,408],
[11.183,162],[11.192,224],[11.187,292],[11.196,373],[11.181,485],[11.198,265],[11.191,428],
[11.203,170],[11.212,235],[11.207,306],[11.216,391],[11.201,510],[11.218,278],
[11.223,178],[11.232,247],[11.227,321],[11.236,410],[11.238,292],
[11.243,187],[11.252,259],[11.247,337],[11.256,430],[11.258,306],
[11.263,196],[11.272,272],[11.267,353],[11.276,450],
[11.283,206],[11.292,285],[11.287,370],[11.296,472],
[11.303,216],[11.312,299],[11.307,388],[11.316,495],
[11.323,227],[11.332,314],[11.327,407],
[11.343,238],[11.352,329],[11.347,427],
[11.363,250],[11.372,345],[11.367,448],
[11.383,262],[11.392,362],[11.387,470],
[10.52,22],[10.55,26],[10.58,24],[10.61,28],[10.64,25],[10.67,30],[10.70,27],[10.73,33],[10.76,29],[10.79,35],[10.82,31],[10.85,38],[10.88,34],[10.91,42],[10.94,37],[10.97,45],[11.00,50],[11.03,48],[11.06,56],
[10.53,33],[10.56,38],[10.59,36],[10.62,42],[10.65,39],[10.68,46],[10.71,43],[10.74,50],[10.77,47],[10.80,55],[10.83,52],[10.86,60],[10.89,57],[10.92,66],[10.95,62],[10.98,72],[11.01,68],[11.04,78],[11.07,85],[11.10,92],
[10.51,19],[10.57,21],[10.63,19],[10.69,22],[10.75,20],[10.81,24],[10.87,26],[10.93,28],[10.99,32],[11.05,36],[11.11,44],[11.17,50],[11.23,60],[10.54,16],[10.60,17.5],[10.66,18],[10.72,16.5],[10.78,15],[10.84,18],[10.90,21],[10.96,24]
];

// right panel: green-circled sources (log stellar mass, SFR)
const greenMassSfr = [
[12.0,2204],[11.142,1244],[11.266,1291],[11.329,1303],[11.428,1133],[11.412,1071],[11.492,977],[11.57,985],[11.314,964],[11.501,809],[11.551,780],[11.61,802],[11.65,828],[11.314,814],[11.288,780],[11.037,869],[10.978,809],[11.353,703],[11.584,641],
[10.943,507],[10.962,441],[11.036,557],[11.059,484],[11.105,507],[11.151,557],[11.233,507],[11.29,583],[11.41,540],[11.44,540],[11.498,461],[11.567,421],[11.63,421],[11.64,531],[11.475,333],[11.52,317],[11.46,290],[11.567,264],[11.359,229],[11.38,240],[11.336,181],[11.36,154],[11.244,111],[11.198,104],[10.77,325],[10.92,290],[11.01,290],[10.885,240],[10.955,219],[11.025,253],[10.735,253],[10.72,199],[10.78,190],[10.827,219],[10.585,209],[10.457,173],[10.48,150],[10.434,130],[10.503,114],[10.66,173],[10.71,180],
[10.62,140],[10.65,110],[10.68,160],[10.70,125],[10.72,210],[10.74,150],[10.76,110],[10.78,270],[10.80,180],[10.82,135],[10.84,330],[10.86,200],[10.88,150],[10.90,260],[10.92,380],[10.94,170],[10.96,220],[10.98,300],[11.00,140],[11.02,420],[11.04,190],[11.06,260],[11.08,350],[11.10,160],[11.12,230],[11.14,460],[11.16,300],[11.18,200],[11.20,380],[11.22,150],[11.24,260],[11.26,340],[11.28,480],[11.30,220],[11.32,300],[11.34,380],[11.36,270],[11.38,440],[11.40,200],[11.42,320],[11.44,400],[11.46,250],[11.48,360],[11.50,600],[11.52,280],[11.54,380],[11.44,660],[11.36,600],[11.26,640],[11.18,560],[11.08,600],[10.98,560],[10.88,480],[10.80,400],[10.72,360],[10.66,300],[10.64,240],[10.70,280],[10.76,200],[10.84,240],[10.90,320],[10.96,150],[11.04,330],[11.12,300],[11.18,130],[11.24,180],[11.30,160],[11.34,140],[11.10,110],[11.00,95],[10.94,125],[10.86,100],[10.78,85],[10.70,80],[10.62,70],[10.56,62],[10.52,90],[10.58,110],[10.66,95],[10.74,70],[10.82,80],[10.90,90],[10.98,120],[11.06,140],[11.14,180],[11.22,200],[11.28,260],
[10.175,34.5],[10.203,38.5],[10.261,22.3],[10.342,15.4],[10.365,23.3],[10.406,32.9],[10.48,34],[10.485,29.6],[10.504,26.7],[10.585,33.5],[10.7,32.2],[10.249,80],[10.284,66],[10.337,68.8],[10.284,51.4],[10.25,42],[10.26,43.5],[10.337,41],[10.383,42],[10.365,46],[10.411,108],[10.445,84],[10.44,79],[10.457,57.6],[10.485,58.5],[10.527,50],[10.55,43.6],[10.561,46.5],[10.596,64],[10.619,66],[10.642,68],[10.665,65],[10.63,38],[10.7,38],[10.723,40],[10.735,56.3],[10.781,48.7],[10.862,55],[10.897,46.7],[10.931,66],[10.978,45],[10.978,47],[10.827,81.6],[10.897,90],[11.031,90],[11.117,99],[11.198,104],[11.244,111],[11.348,90],[11.216,73],
[10.43,137],[10.527,128],[10.596,119],[10.665,125],[10.735,134],[10.827,116],[10.92,137],[11.04,131],[11.1,140],[11.17,137],
[10.61,95],[10.63,120],[10.66,135],[10.69,105],[10.71,150],[10.73,118],[10.75,175],[10.77,140],[10.79,122],[10.81,205],[10.83,160],[10.85,130],[10.87,185],[10.89,240],[10.91,175],[10.93,150],[10.95,280],[10.97,200],[10.99,170],[11.01,230],[11.03,350],[11.05,215],[11.07,180],[11.09,270],[11.11,380],[11.13,250],[11.15,210],[11.17,330],[11.19,440],[11.21,280],[11.23,240],[11.25,400],[11.27,300],[11.29,350],[11.31,260],[11.33,450],[11.35,320],[11.37,520],[11.39,360],[11.41,290],[11.43,470],[11.45,350],[11.47,550],[11.49,420],[11.53,500],[11.56,620],[11.60,700],[11.40,720],[11.30,700],[11.22,650],[11.12,520],[11.02,480],[10.92,420],[10.82,300],[10.74,240],[10.68,200],[10.86,350],[11.08,440],[11.26,560],[11.46,820],[11.60,560],[11.62,640]
];

const oneToOne = [[10,10],[4000,4000]];
const mainSequence = [[9.5,12.2],[12.5,2860]];
const starburstLine = [[9.5,48.8],[12.5,11440]];

// ---------------- CHART ----------------
const FONT = 'DejaVu Sans';
const chart = echarts.init(document.getElementById('chart'), null, {renderer: 'canvas'});

const richName = {
  sun: {fontFamily: FONT, fontSize: 13, color: '#000', padding: [10, 0, 0, 0]}
};
const nameStyle = {fontFamily: FONT, fontSize: 21, color: '#000', rich: richName};
const tickLabel = {fontFamily: FONT, fontSize: 21, color: '#000'};

function logLabel(v) {
  const l = Math.log10(v);
  return Math.abs(l - Math.round(l)) < 1e-6 ? String(Math.round(v)) : '';
}

const G1 = {left: 113, top: 43, width: 505, height: 477};
const G2 = {left: 793, top: 43, width: 506, height: 477};

function logAxisBase(min, max, pos, show) {
  return {
    type: 'log', logBase: 10, min: min, max: max, position: pos,
    axisLine: {show: true, onZero: false, lineStyle: {color: '#000', width: 1}},
    axisTick: {show: true, inside: true, length: 10, lineStyle: {color: '#000'}},
    minorTick: {show: false},
    splitLine: {show: false},
    axisLabel: show ? Object.assign({formatter: logLabel, margin: show === 'x' ? 14 : 10}, tickLabel) : {show: false}
  };
}

function minorTickData(xList, xMinVal, yList, yMinVal) {
  const out = [];
  xList.forEach(v => out.push([v, yMinVal, 0]));
  yList.forEach(v => out.push([xMinVal, v, 1]));
  return out;
}
function minorRender(params, api) {
  const cs = params.coordSys;
  const p = api.coord([api.value(0), api.value(1)]);
  const kind = api.value(2);
  const L = 5;
  const st = {stroke: '#000', lineWidth: 1};
  if (kind === 0) {
    const x = Math.round(p[0]) + 0.5;
    if (x < cs.x || x > cs.x + cs.width) return null;
    return {type: 'group', children: [
      {type: 'line', shape: {x1: x, y1: cs.y + cs.height, x2: x, y2: cs.y + cs.height - L}, style: st},
      {type: 'line', shape: {x1: x, y1: cs.y, x2: x, y2: cs.y + L}, style: st}
    ]};
  } else {
    const y = Math.round(p[1]) + 0.5;
    if (y < cs.y || y > cs.y + cs.height) return null;
    return {type: 'group', children: [
      {type: 'line', shape: {x1: cs.x, y1: y, x2: cs.x + L, y2: y}, style: st},
      {type: 'line', shape: {x1: cs.x + cs.width, y1: y, x2: cs.x + cs.width - L, y2: y}, style: st}
    ]};
  }
}

const leftXMinor = logMinorTicks.filter(v => v > 10 && v < 4000);
const yMinor = logMinorTicks.filter(v => v > 5 && v < 4000);
const sbzkSparse = [].concat(sbzkMassSfr, sbzkEdgeMassSfr, sbzkBandMassSfr);
const sbzkDense = [].concat(sbzkCoreMassSfr, sbzkCoreFillMassSfr);

const option = {
  backgroundColor: '#fff',
  animation: false,
  title: {
    text: titleText, left: 365, top: 7, textAlign: 'center',
    textStyle: {fontFamily: FONT, fontSize: 26, fontWeight: 'normal', color: '#000'}
  },
  grid: [
    Object.assign({containLabel: false}, G1),
    Object.assign({containLabel: false}, G2)
  ],
  xAxis: [
    Object.assign(logAxisBase(10, 4000, 'bottom', 'x'), {gridIndex: 0, name: leftXName, nameLocation: 'middle', nameGap: 38, nameTextStyle: nameStyle}),
    Object.assign(logAxisBase(10, 4000, 'top', false), {gridIndex: 0}),
    {
      type: 'value', gridIndex: 1, min: 9.5, max: 12.5, interval: 0.5, position: 'bottom',
      axisLine: {show: true, onZero: false, lineStyle: {color: '#000', width: 1}},
      axisTick: {show: true, inside: true, length: 10, lineStyle: {color: '#000'}},
      minorTick: {show: true, splitNumber: 5, length: 5, lineStyle: {color: '#000', width: 1}},
      splitLine: {show: false},
      axisLabel: Object.assign({formatter: v => v.toFixed(1), margin: 14}, tickLabel),
      name: rightXName, nameLocation: 'middle', nameGap: 38, nameTextStyle: nameStyle
    },
    {
      type: 'value', gridIndex: 1, min: 9.5, max: 12.5, interval: 0.5, position: 'top',
      axisLine: {show: true, onZero: false, lineStyle: {color: '#000', width: 1}},
      axisTick: {show: true, inside: true, length: 10, lineStyle: {color: '#000'}},
      minorTick: {show: true, splitNumber: 5, length: 5, lineStyle: {color: '#000', width: 1}},
      splitLine: {show: false},
      axisLabel: {show: false}
    }
  ],
  yAxis: [
    Object.assign(logAxisBase(5, 4000, 'left', 'y'), {gridIndex: 0, name: leftYName, nameLocation: 'middle', nameGap: 77, nameTextStyle: nameStyle}),
    Object.assign(logAxisBase(5, 4000, 'right', false), {gridIndex: 0}),
    Object.assign(logAxisBase(5, 4000, 'left', 'y'), {gridIndex: 1, name: rightYName, nameLocation: 'middle', nameGap: 70, nameTextStyle: nameStyle}),
    Object.assign(logAxisBase(5, 4000, 'right', false), {gridIndex: 1})
  ],
  series: [
    {
      type: 'scatter', xAxisIndex: 0, yAxisIndex: 0, data: pacsUvFir,
      symbol: 'circle', symbolSize: 11, itemStyle: {color: '#ff0000', opacity: 1}, silent: true
    },
    {
      type: 'line', xAxisIndex: 0, yAxisIndex: 0, data: oneToOne, symbol: 'none',
      lineStyle: {color: '#000', width: 1}, silent: true
    },
    {
      type: 'custom', xAxisIndex: 0, yAxisIndex: 0, renderItem: minorRender,
      data: minorTickData(leftXMinor, 10, yMinor, 10), silent: true, clip: false
    },
    {
      type: 'scatter', xAxisIndex: 2, yAxisIndex: 2, data: pacsMassSfr,
      symbol: 'circle', symbolSize: 12, itemStyle: {color: '#ff0000', opacity: 1}, silent: true
    },
    {
      type: 'scatter', xAxisIndex: 2, yAxisIndex: 2, data: sbzkSparse,
      symbol: 'rect', symbolSize: 2.4, itemStyle: {color: '#000', opacity: 1}, silent: true, large: false
    },
    {
      type: 'scatter', xAxisIndex: 2, yAxisIndex: 2, data: sbzkDense,
      symbol: 'rect', symbolSize: 3.3, itemStyle: {color: '#000', opacity: 1}, silent: true, large: false
    },
    {
      type: 'scatter', xAxisIndex: 2, yAxisIndex: 2, data: greenMassSfr,
      symbol: 'circle', symbolSize: 9,
      itemStyle: {color: 'rgba(0,0,0,0)', borderColor: '#00ff00', borderWidth: 1.2, opacity: 1}, silent: true
    },
    {
      type: 'line', xAxisIndex: 2, yAxisIndex: 2, data: mainSequence, symbol: 'none',
      lineStyle: {color: '#000', width: 2.5}, silent: true
    },
    {
      type: 'line', xAxisIndex: 2, yAxisIndex: 2, data: starburstLine, symbol: 'none',
      lineStyle: {color: '#000', width: 3, type: [0.1, 10.5], cap: 'round'}, silent: true
    },
    {
      type: 'custom', xAxisIndex: 2, yAxisIndex: 2, renderItem: minorRender,
      data: minorTickData([], 9.5, yMinor, 9.5), silent: true, clip: false
    }
  ]
};
chart.setOption(option);
</script>
</body>
</html>
